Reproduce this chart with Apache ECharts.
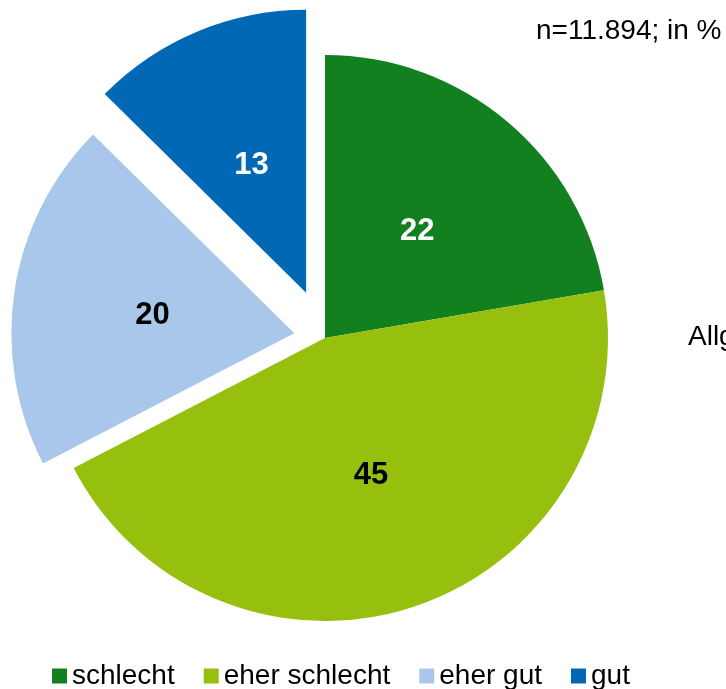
<!doctype html>
<html>
	<head>
		<meta charset="UTF-8">
		<title></title>
		<script src="https://cdn.jsdelivr.net/npm/echarts@6/dist/echarts.min.js"></script>
		<style>
			html, body {
				margin: 0;
				padding: 0;
				background-color: #FFF;
			}
			#pieChart {
				width: 726px;
				height: 689px;
			}
		</style>
	</head>
	<body>
		<div id="pieChart"></div>
		<script type="text/javascript">
			var categories = ['schlecht', 'eher schlecht', 'eher gut', 'gut'];
			var values = [22.3, 45.1, 20.0, 12.6];   // aus den Winkeln geschätzt, Beschriftung gerundet
			var noteText = 'n=11.894; in %';
			var sideText = 'Allgemein';

			var colors = ['#12801e', '#97bf0d', '#a9c7eb', '#0068b4'];
			var labelColors = ['#fff', '#000', '#000', '#fff'];
			var labelShift = [[-1, 4], [0, 0], [1, 4], [1, 6]];
			var fontName = '"Liberation Sans", Arial, sans-serif';

			// drei Gruppen: die zwei festen Stücke, dann zwei herausgezogene mit verschiedenem Abstand
			var groups = [
				{ items: [0, 1], offset: 0 },
				{ items: [2], offset: 31 },
				{ items: [3], offset: 49 }
			];

			var series = groups.map(function(g) {
				return {
					type: 'pie',
					center: [325, 338],
					radius: 283,
					startAngle: 90,
					clockwise: true,
					avoidLabelOverlap: false,
					selectedMode: 'multiple',
					selectedOffset: g.offset,
					silent: true,
					label: {
						position: 'inside',
						fontFamily: fontName,
						fontWeight: 'bold',
						fontSize: 31,
						formatter: function(p) {
							return Math.round(p.value);
						}
					},
					labelLine: { show: false },
					emphasis: { disabled: true },
					data: categories.map(function(name, i) {
						var mine = g.items.indexOf(i) >= 0;
						return {
							name: name,
							value: values[i],
							selected: mine && g.offset > 0,
							itemStyle: {
								color: colors[i],
								opacity: mine ? 1 : 0
							},
							label: {
								show: mine,
								color: labelColors[i],
								offset: labelShift[i]
							},
							select: {
								label: { offset: labelShift[i] }
							}
						};
					})
				};
			});

			var option = {
				animation: false,
				legend: {
					left: 47,
					top: 657,
					itemWidth: 15,
					itemHeight: 15,
					itemGap: 29,
					icon: 'rect',
					selectedMode: false,
					textStyle: {
						fontFamily: fontName,
						fontSize: 28,
						color: '#000'
					},
					data: categories.map(function(name, i) {
						return { name: name, itemStyle: { color: colors[i], opacity: 1 } };
					})
				},
				graphic: [{
					type: 'text',
					left: 536,
					top: 17,
					style: {
						text: noteText,
						fontFamily: fontName,
						fontSize: 28,
						fill: '#000'
					}
				}, {
					type: 'text',
					left: 688,
					top: 323,
					style: {
						text: sideText,
						fontFamily: fontName,
						fontSize: 28,
						fill: '#000'
					}
				}],
				series: series
			};
			var myChart = echarts.init(document.getElementById('pieChart'));
			myChart.setOption(option);
		</script>
	</body>
</html>
